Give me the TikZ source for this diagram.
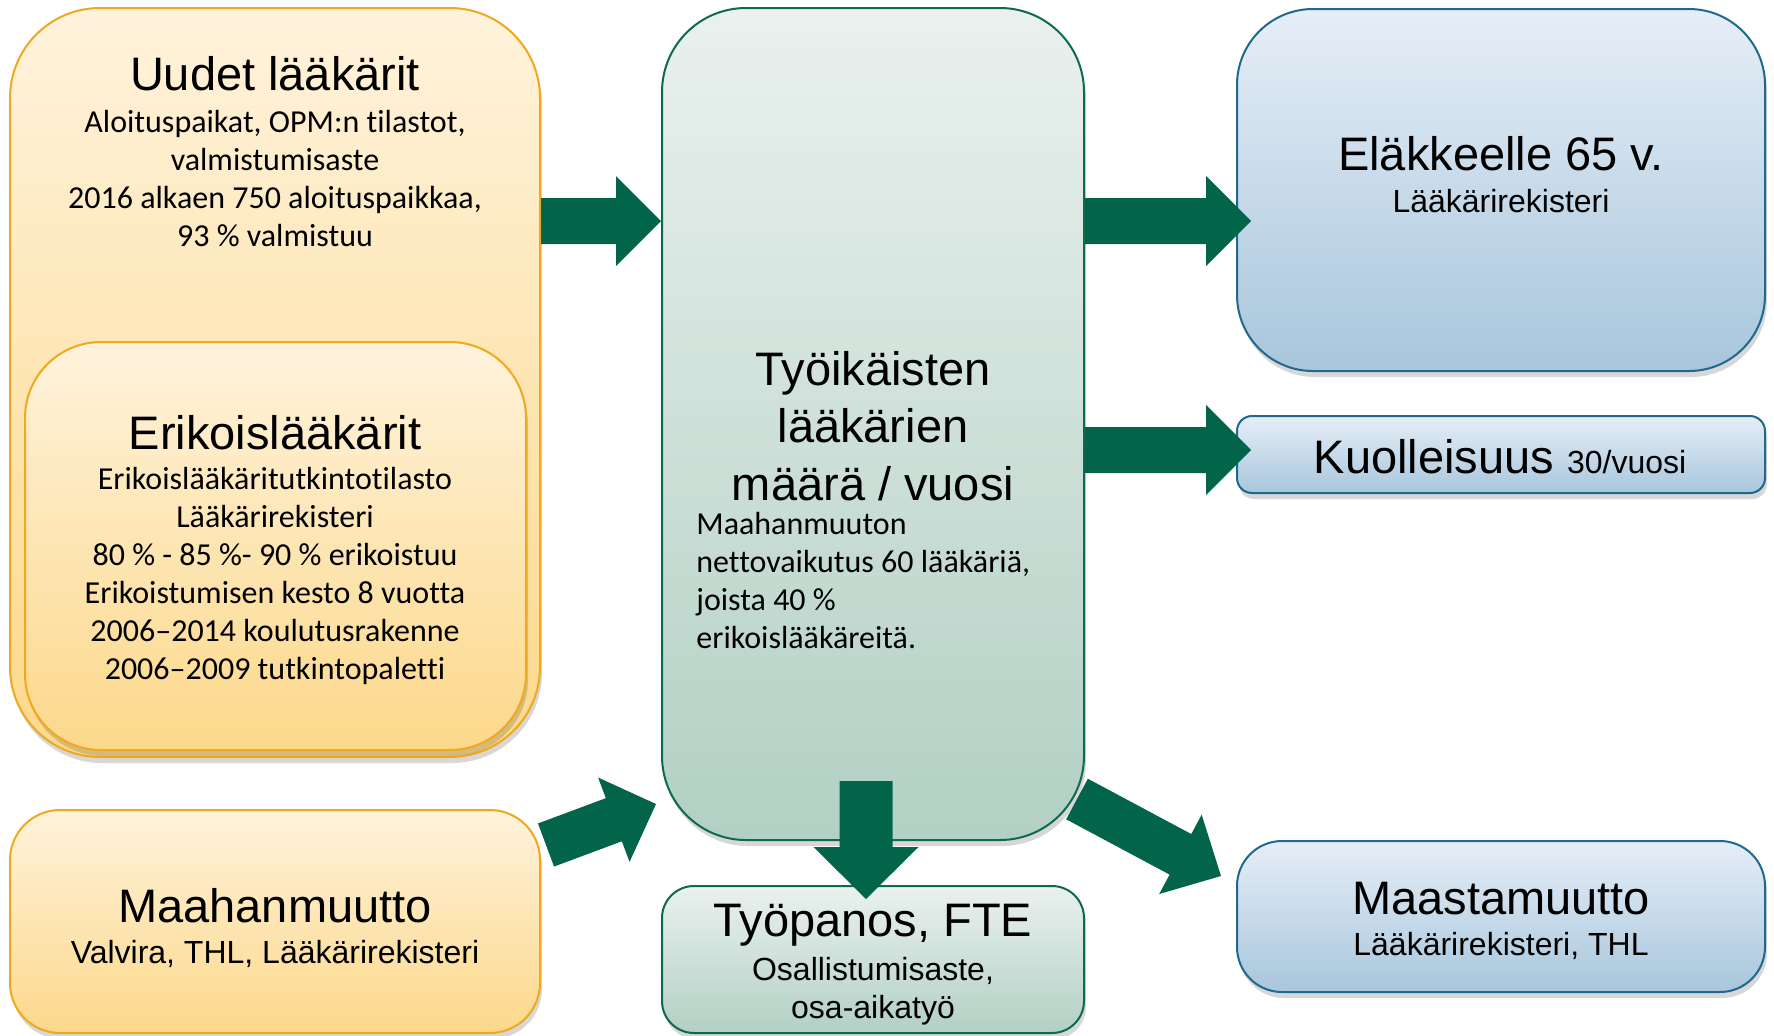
\documentclass[tikz,border=0pt]{standalone}
\usepackage{fontspec}
\setmainfont{Liberation Sans}
\newfontfamily\calfont[Ligatures={NoCommon,NoContextual}]{Carlito}
\usetikzlibrary{calc,shadows}
\pgfdeclarelayer{bglayer}
\pgfdeclarelayer{arrlayer}
\pgfsetlayers{bglayer,arrlayer,main}
\definecolor{otop}{HTML}{FFF3DC}
\definecolor{obot}{HTML}{FCD88A}
\definecolor{oline}{HTML}{F0A81C}
\definecolor{gtop}{HTML}{EAF1EE}
\definecolor{gbot}{HTML}{B2D0C4}
\definecolor{gline}{HTML}{0E6A4E}
\definecolor{btop}{HTML}{E6EEF7}
\definecolor{bbot}{HTML}{A8C6DC}
\definecolor{bline}{HTML}{1F6890}
\definecolor{arrfill}{HTML}{02654A}
\newcommand\blkarrow[5]{%
  \coordinate (ba-h) at ($(#2)!#5!(#1)$);
  \fill[arrfill] ($(#1)!#3!90:(#2)$) -- ($(ba-h)!#3!-90:(#1)$) -- ($(ba-h)!#4!-90:(#1)$)
    -- (#2) -- ($(ba-h)!#4!90:(#1)$) -- ($(ba-h)!#3!90:(#1)$) -- ($(#1)!#3!-90:(#2)$) -- cycle;
}
\begin{document}
\begin{tikzpicture}[x=0.5pt,y=-0.5pt,
  box/.style={rectangle, inner sep=0pt, line width=1pt,
    drop shadow={shadow xshift=1pt, shadow yshift=-3pt, opacity=0.22, fill=black!70}},
  obox/.style={box, draw=oline, top color=otop, bottom color=obot},
  gbox/.style={box, draw=gline, top color=gtop, bottom color=gbot},
  bbox/.style={box, draw=bline, top color=btop, bottom color=bbot},
  title/.style={font=\fontsize{23.5}{28.75}\selectfont, inner sep=0pt, align=center},
  sub/.style={font=\fontsize{16}{19}\selectfont, inner sep=0pt, align=center},
  cal/.style={font=\calfont\fontsize{16}{19}\selectfont, inner sep=0pt, align=center}]
\begin{pgfonlayer}{bglayer}
\fill[white] (0,0) rectangle (1774,1035);
\end{pgfonlayer}
\useasboundingbox (0,0) rectangle (1774,1035);

% orange boxes
\node[obox, rounded corners=45pt, minimum width=265pt, minimum height=374.5pt] (uud) at (275,382.5) {};
\node[obox, rounded corners=38pt, minimum width=250.5pt, minimum height=204pt] (erk) at (275.5,546) {};
\node[obox, rounded corners=25pt, minimum width=265pt, minimum height=111.5pt] (maa) at (275,921.5) {};

% blue boxes
\node[bbox, rounded corners=38pt, minimum width=264pt, minimum height=181pt] (ela) at (1501,190) {};
\node[bbox, rounded corners=7.5pt, minimum width=264pt, minimum height=38.5pt] (kuo) at (1501,454.5) {};
\node[bbox, rounded corners=22.5pt, minimum width=264pt, minimum height=75.5pt] (mast) at (1501,916.5) {};

% green boxes
\node[gbox, rounded corners=42pt, minimum width=211pt, minimum height=416pt] (mid) at (873,424) {};
\node[gbox, rounded corners=16pt, minimum width=211pt, minimum height=73.5pt] (tyo) at (873,959.5) {};

% arrow from centre to Maastamuutto (behind the centre box)
\begin{pgfonlayer}{arrlayer}
\coordinate (d2s) at ($(mid.south east)+(-8,-42)$);
\coordinate (d2e) at ($(mast.north west)+(-15,36)$);
\blkarrow{d2s}{d2e}{11.5pt}{22.5pt}{23pt}
\end{pgfonlayer}

% texts
\node[title] (uudT) at (275,74) {Uudet lääkärit};
\node[cal] (uudS) at (275,179) {Aloituspaikat, OPM:n tilastot,\\ valmistumisaste\\ 2016 alkaen 750 aloituspaikkaa,\\ 93 \% valmistuu};
\node[title] (erkT) at (275,433) {Erikoislääkärit};
\node[cal] (erkS) at (275,576) {Erikoislääkäritutkintotilasto\\ Lääkärirekisteri\\ 80 \% - 85 \%- 90 \% erikoistuu\\ Erikoistumisen kesto 8 vuotta\\ 2006–2014 koulutusrakenne\\ 2006–2009 tutkintopaletti};
\node[title] (maaT) at (275,906) {Maahanmuutto};
\node[sub] (maaS) at (275,954) {Valvira, THL, Lääkärirekisteri};
\node[title] (midT) at (873,426) {Työikäisten\\ lääkärien\\ määrä / vuosi};
\node[cal, align=left, anchor=west] (midS) at (696,581) {Maahanmuuton\\ nettovaikutus 60 lääkäriä,\\ joista 40 \%\\ erikoislääkäreitä.};
\node[title] (tyoT) at (873,925) {Työpanos, FTE};
\node[sub] (tyoS) at (873,991) {Osallistumisaste,\\ osa-aikatyö};
\node[title] (elaT) at (1501,154) {Eläkkeelle 65 v.};
\node[sub] (elaS) at (1501,201) {Lääkärirekisteri};
\node[title] (kuoT) at (1500,457) {Kuolleisuus {\fontsize{16}{19}\selectfont 30/vuosi}};
\node[title] (mastT) at (1501,899) {Maastamuutto};
\node[sub] (mastS) at (1501,946) {Lääkärirekisteri, THL};

% block arrows
\coordinate (a1s) at (uud.east |- 0,221);
\coordinate (a1e) at (mid.west |- 0,221);
\blkarrow{a1s}{a1e}{11.5pt}{22.5pt}{22.5pt}
\coordinate (a2s) at (mid.east |- 0,221);
\coordinate (a2e) at ($(ela.west |- 0,221)+(15,0)$);
\blkarrow{a2s}{a2e}{11.5pt}{22.5pt}{22.5pt}
\coordinate (a3s) at (mid.east |- 0,450);
\coordinate (a3e) at ($(kuo.west |- 0,450)+(15,0)$);
\blkarrow{a3s}{a3e}{11.5pt}{22.5pt}{22.5pt}
\coordinate (d1s) at ($(maa.north east)+(5,36)$);
\coordinate (d1e) at ($(mid.south west)+(-5,-37)$);
\blkarrow{d1s}{d1e}{11.5pt}{22.5pt}{22.5pt}
\coordinate (vs) at ($(mid.south)+(-7,-60)$);
\coordinate (ve) at ($(tyo.north)+(-7,14)$);
\blkarrow{vs}{ve}{13.25pt}{26.25pt}{26pt}
\end{tikzpicture}
\end{document}
